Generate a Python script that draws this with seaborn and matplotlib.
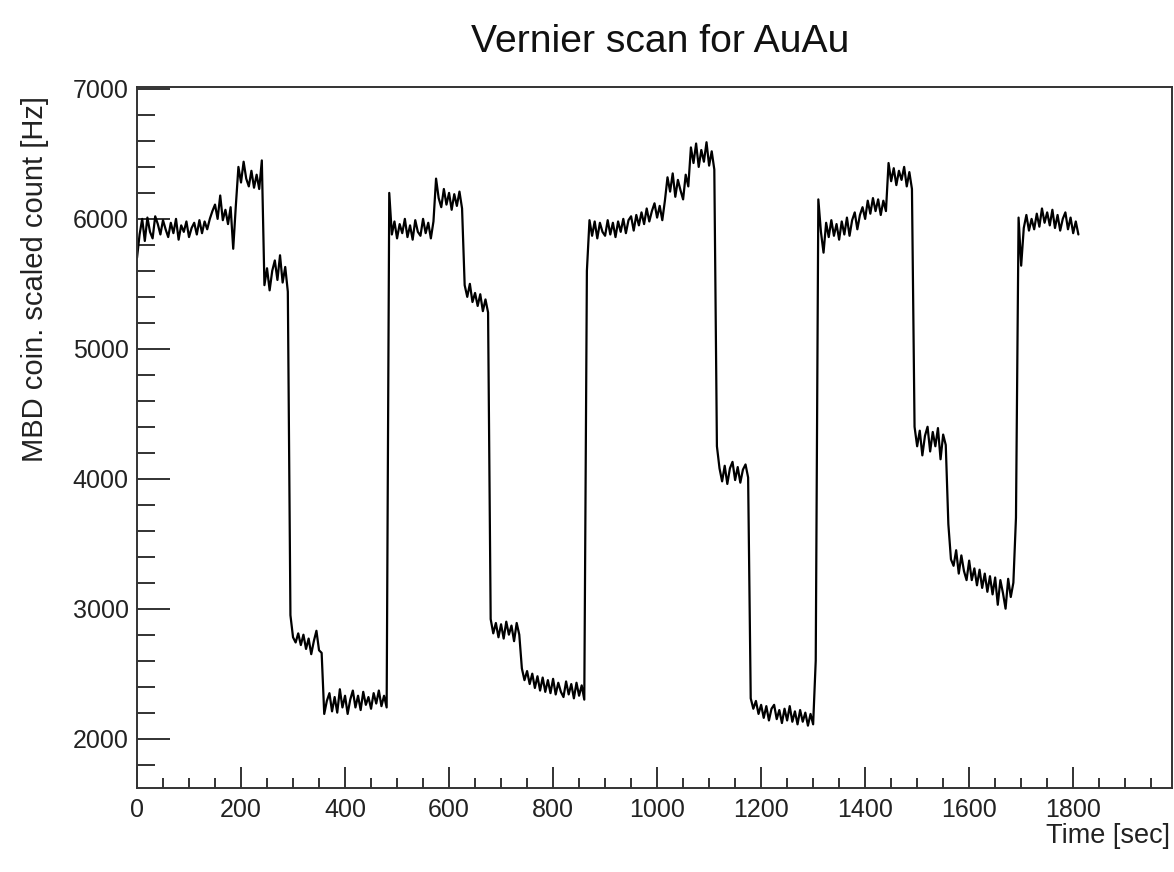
import numpy as np
import pandas as pd
import matplotlib
matplotlib.use("Agg")
import matplotlib.pyplot as plt
import seaborn as sns
from matplotlib.ticker import MultipleLocator

# ---- data: MBD coincidence rate [Hz], one reading every 5 s ----
seg_start = [5700, 5880, 6000, 5830, 6010, 5900, 5850, 6020, 5960, 5880,
             5990, 5920, 5860, 5970, 5890, 6000, 5840, 5950, 5900, 5980,
             5860, 5930, 5970, 5880, 5990, 5890, 5980, 5920, 6000, 6060,
             6110, 6000, 6180, 5990, 6070, 5960, 6090, 5770, 6100]
seg_high1 = [6400, 6280, 6440, 6310, 6250, 6370, 6240, 6340, 6230, 6450]
seg_step1 = [5490, 5620, 5450, 5600, 5680, 5530, 5720, 5510, 5630, 5440]
seg_mid1 = [2950, 2780, 2740, 2810, 2720, 2800, 2690, 2770, 2650, 2750,
            2830, 2680, 2660]
seg_low1 = [2190, 2290, 2350, 2210, 2320, 2200, 2380, 2240, 2330, 2190,
            2300, 2370, 2240, 2330, 2220, 2360, 2260, 2320, 2230, 2350,
            2270, 2370, 2250, 2330, 2240]
seg_base2 = [6200, 5880, 5980, 5850, 5960, 5890, 6000, 5860, 5950, 5840,
             5990, 5900, 5870, 6000, 5890, 5970, 5850, 5980]
seg_high2 = [6310, 6160, 6090, 6230, 6110, 6200, 6070, 6190, 6100, 6210, 6080]
seg_step2 = [5490, 5400, 5500, 5360, 5430, 5330, 5420, 5290, 5380, 5280]
seg_mid2 = [2920, 2810, 2890, 2780, 2880, 2770, 2900, 2800, 2870, 2750,
            2890, 2800]
seg_low2 = [2540, 2450, 2520, 2420, 2500, 2390, 2480, 2370, 2470, 2360,
            2450, 2350, 2460, 2340, 2430, 2360, 2320, 2440, 2340, 2420,
            2310, 2430, 2330, 2410, 2300]
seg_base3 = [5600, 5990, 5870, 5980, 5850, 5970, 5900, 5870, 5990, 5880,
             5970, 5860, 5980, 5900, 6000, 5890, 5990, 6020, 5910, 6030,
             5950, 6050, 5960, 6080, 5980, 6060, 6120, 6010, 6100, 5990,
             6140]
seg_high3a = [6320, 6210, 6350, 6170, 6300, 6220, 6150, 6340, 6250]
seg_high3b = [6550, 6430, 6580, 6400, 6530, 6440, 6590, 6410, 6520, 6380]
seg_mid3 = [4250, 4080, 3980, 4100, 3960, 4080, 4130, 3990, 4090, 3970,
            4070, 4110, 4010]
seg_low3 = [2310, 2230, 2290, 2190, 2260, 2160, 2250, 2140, 2230, 2260,
            2150, 2220, 2120, 2230, 2140, 2250, 2130, 2210, 2110, 2220,
            2130, 2200, 2100, 2190, 2110, 2600]
seg_base4 = [6150, 5900, 5740, 5970, 5860, 5990, 5870, 5960, 5840, 5980,
             5880, 6010, 5870, 5990, 6050, 5920, 6030, 6090, 6000, 6140,
             6040, 6160, 6060, 6150, 6030, 6140, 6060]
seg_high4 = [6430, 6290, 6390, 6260, 6370, 6300, 6400, 6250, 6360, 6230]
seg_mid4 = [4400, 4250, 4370, 4180, 4330, 4400, 4210, 4360, 4250, 4390,
            4150, 4340, 4260]
seg_low4 = [3650, 3380, 3330, 3450, 3270, 3410, 3290, 3220, 3370, 3220,
            3310, 3180, 3300, 3160, 3270, 3130, 3250, 3110, 3240, 3030,
            3220, 3120, 3000, 3230, 3090, 3200, 3700]
seg_end = [6010, 5640, 5930, 6030, 5910, 6000, 5920, 6040, 5940, 6080,
           5970, 6050, 5950, 6070, 5930, 6030, 5910, 6000, 6050, 5920,
           6010, 5890, 5980, 5880]

segments = [seg_start, seg_high1, seg_step1, seg_mid1, seg_low1, seg_base2,
            seg_high2, seg_step2, seg_mid2, seg_low2, seg_base3, seg_high3a,
            seg_high3b, seg_mid3, seg_low3, seg_base4, seg_high4, seg_mid4,
            seg_low4, seg_end]
rate_hz = [v for s in segments for v in s]
time_sec = np.arange(len(rate_hz)) * 5  # 5 s sampling

x_major = [0, 200, 400, 600, 800, 1000, 1200, 1400, 1600, 1800]
y_major = [2000, 3000, 4000, 5000, 6000, 7000]

df = pd.DataFrame({"time": time_sec, "rate": rate_hz})

# ---- style ----
sns.set_theme(style="white")
plt.rcParams["font.family"] = ["Liberation Sans", "DejaVu Sans"]

fig = plt.figure(figsize=(11.74, 8.72), dpi=100)
fig.patch.set_facecolor("white")
ax = fig.add_axes([137 / 1174, 1 - 788 / 872, (1172 - 137) / 1174, (788 - 87) / 872])

sns.lineplot(data=df, x="time", y="rate", ax=ax, color="black",
             linewidth=1.6, errorbar=None)

ax.set_xlim(0, 1990)
ax.set_ylim(1620, 7015)
ax.set_xticks(x_major)
ax.set_xticklabels([str(v) for v in x_major])
ax.set_yticks(y_major)
ax.set_yticklabels([str(v) for v in y_major])
ax.xaxis.set_minor_locator(MultipleLocator(50))
ax.yaxis.set_minor_locator(MultipleLocator(200))

ax.tick_params(axis="both", which="both", direction="in", colors="#222222",
               labelcolor="#222222", width=1.3, top=False, right=False,
               bottom=True, left=True)
ax.tick_params(axis="y", which="major", length=24, labelsize=18, pad=6)
ax.tick_params(axis="y", which="minor", length=13)
ax.tick_params(axis="x", which="major", length=15, labelsize=18, pad=7)
ax.tick_params(axis="x", which="minor", length=7)

for sp in ax.spines.values():
    sp.set_visible(True)
    sp.set_color("#333333")
    sp.set_linewidth(1.4)

ax.set_xlabel("")
ax.set_ylabel("")
ax.grid(False)

fig.text(660 / 1174, 1 - 42 / 872, "Vernier scan for AuAu", ha="center",
         va="center", fontsize=28.2, color="#111111")
fig.text(35 / 1174, 1 - 96 / 872, "MBD coin. scaled count [Hz]", rotation=90,
         ha="center", va="top", fontsize=21, color="#222222")
fig.text(1170 / 1174, 1 - 836 / 872, "Time [sec]", ha="right", va="center",
         fontsize=19.5, color="#222222")

fig.savefig("out.png", dpi=100, facecolor="white")
